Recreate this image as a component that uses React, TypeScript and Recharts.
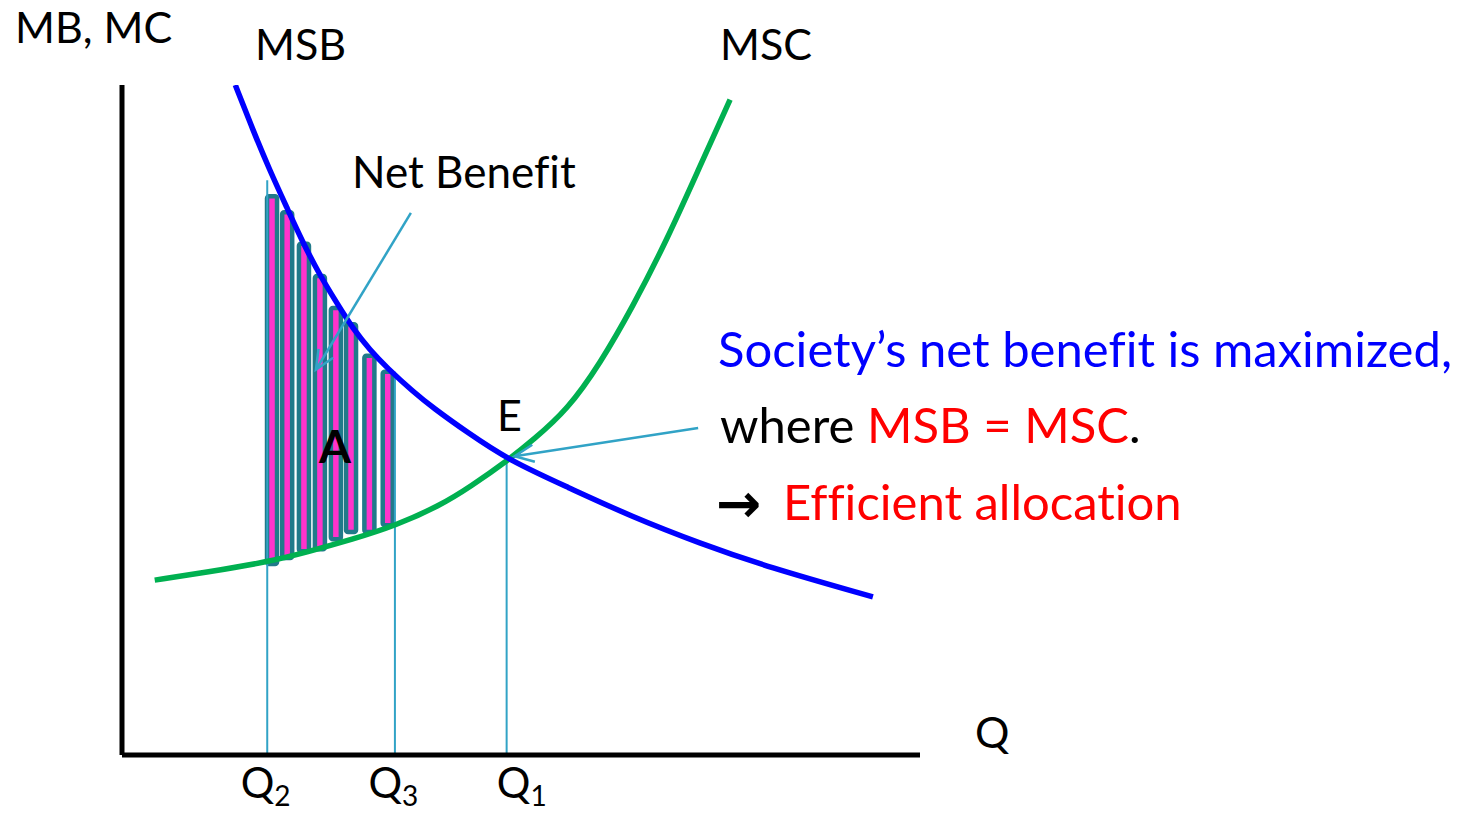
import { ComposedChart, Line, Bar, XAxis, YAxis, ReferenceLine, ReferenceDot, Customized } from "recharts";

// marginal social benefit (downward)
const msbQ = [14.2, 16.4, 18.5, 20.7, 22.7, 24.8, 26.9, 28.9, 31.1, 33.2, 36.5, 39.0, 43.2, 48.6, 55.8, 64.0, 72.4, 80.8, 94.1];
const msbP = [100, 93.3, 87.3, 81.6, 76.4, 71.6, 67.5, 63.7, 60.4, 57.8, 54.2, 51.8, 48.2, 43.9, 40.0, 35.5, 31.6, 28.1, 23.6];

// marginal social cost (upward)
const mscQ = [4.1, 10.7, 18.2, 23.2, 28.9, 34.2, 39.8, 43.6, 48.6, 51.5, 55.8, 59.9, 64.0, 68.3, 72.4, 76.2];
const mscP = [26.1, 27.3, 28.8, 30.3, 32.2, 34.2, 37.2, 40.0, 44.2, 47.0, 51.5, 58.4, 66.9, 76.9, 87.8, 97.8];

// net benefit strips between Q2 and Q3
const stripQ = [18.8, 20.7, 22.8, 24.8, 26.8, 28.7, 31.0, 33.3];
const stripLow = [28.5, 29.4, 30.4, 30.7, 32.2, 33.3, 33.3, 34.3];
const stripHigh = [83.4, 81.0, 76.3, 71.5, 66.7, 64.3, 59.6, 57.2];

// quantity markers
const markQ = [18.2, 34.2, 48.2];
const markTop = [85.8, 57.2, 44.0];
const tickQ = [18.0, 34.0, 50.1];
const tickSubs = ["2", "3", "1"];

const FONT = "Lato, 'Open Sans', sans-serif";
const ARROW = "#31A3C6";
const noLig = { fontVariantLigatures: "none" } as const;

const msbRows = msbQ.map((q, i) => ({ q, p: msbP[i] }));
const mscRows = mscQ.map((q, i) => ({ q, p: mscP[i] }));
const stripRows = stripQ.map((q, i) => ({ q, range: [stripLow[i], stripHigh[i]] }));

const QTick = (props: any) => {
  const { x, y, index } = props;
  return (
    <text x={x} y={y + 35} textAnchor="middle" fontFamily={FONT} fontSize={42} fill="#000">
      Q<tspan fontSize={28} dy={8}>{tickSubs[index]}</tspan>
    </text>
  );
};

const StripShape = (props: any) => {
  const { x, y, width, height } = props;
  const cx = x + width / 2;
  const w = 10;
  return (
    <rect x={cx - w / 2} y={y} width={w} height={height} rx={2}
      fill="#FF33CC" stroke="#217A8A" strokeWidth={4.5} />
  );
};

const arrowShape = (props: any) => {
  const { x1, y1, x2, y2 } = props;
  const a = Math.atan2(y2 - y1, x2 - x1);
  const len = 21;
  const s = 0.42;
  const ax = x2 - len * Math.cos(a - s);
  const ay = y2 - len * Math.sin(a - s);
  const bx = x2 - len * Math.cos(a + s);
  const by = y2 - len * Math.sin(a + s);
  return (
    <g stroke={ARROW} strokeWidth={2.5} fill="none">
      <line x1={x1} y1={y1} x2={x2} y2={y2} />
      <polyline points={`${ax},${ay} ${x2},${y2} ${bx},${by}`} />
    </g>
  );
};

const areaLabel = (props: any) => (
  <text x={props.cx} y={props.cy} textAnchor="middle" fontFamily={FONT} fontSize={46} fontWeight="bold" fill="#000">
    A
  </text>
);

const Annotations = () => (
  <g fontFamily={FONT} fontSize={43} fill="#000" style={noLig}>
    <text x={15} y={43}>MB, MC</text>
    <text x={255} y={60}>MSB</text>
    <text x={720} y={60}>MSC</text>
    <text x={352} y={188} fontSize={44}>Net Benefit</text>
    <text x={497} y={431}>E</text>
    <text x={975} y={748}>Q</text>
    <text x={718} y={367} fontSize={49} fill="#0000FF">Society’s net benefit is maximized,</text>
    <text x={720} y={443} fontSize={49}>
      where <tspan fill="#FF0000">MSB = MSC</tspan>.
    </text>
    <text x={716} y={522} fontSize={54} fontWeight="bold" fontFamily="'DejaVu Sans'">→</text>
    <text x={783} y={520} fontSize={49} fill="#FF0000">Efficient allocation</text>
  </g>
);

export default function App() {
  return (
    <div style={{ position: "absolute", left: 0, top: 0, background: "#fff" }}>
      <ComposedChart
        width={1468}
        height={815}
        data={stripRows}
        margin={{ top: 85, right: 548, left: 119, bottom: 0 }}
      >
        <XAxis
          type="number"
          dataKey="q"
          domain={[0, 100]}
          allowDataOverflow
          ticks={tickQ}
          interval={0}
          tickLine={false}
          axisLine={{ stroke: "#000", strokeWidth: 5 }}
          height={60}
          tick={<QTick />}
        />
        <YAxis
          type="number"
          domain={[0, 100]}
          allowDataOverflow
          width={3}
          tick={false}
          tickLine={false}
          axisLine={{ stroke: "#000", strokeWidth: 5 }}
        />
        {markQ.map((q, i) => (
          <ReferenceLine
            key={"m" + i}
            segment={[{ x: q, y: 0 }, { x: q, y: markTop[i] }]}
            stroke={ARROW}
            strokeWidth={2}
          />
        ))}
        <Line data={mscRows} dataKey="p" type="basis" stroke="#00B050" strokeWidth={5.5} dot={false} isAnimationActive={false} />
        <Line data={msbRows} dataKey="p" type="basis" stroke="#0000FF" strokeWidth={5.5} dot={false} isAnimationActive={false} />
        <Bar dataKey="range" shape={<StripShape />} isAnimationActive={false} />
        <ReferenceLine segment={[{ x: 36.2, y: 80.9 }, { x: 24.3, y: 57.5 }]} shape={arrowShape} />
        <ReferenceLine segment={[{ x: 72.2, y: 48.8 }, { x: 49.2, y: 44.6 }]} shape={arrowShape} />
        <ReferenceDot x={26.7} y={43.6} r={0} shape={areaLabel} />
        <Customized component={Annotations} />
      </ComposedChart>
    </div>
  );
}
